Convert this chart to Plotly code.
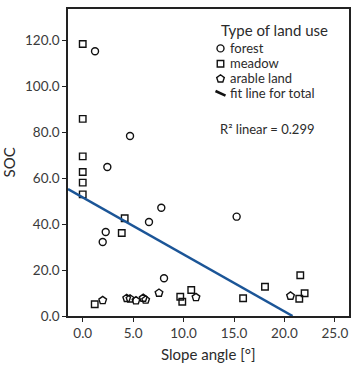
import plotly.graph_objects as go

# ---- data ----
forest_x = [1.22, 4.69, 2.44, 6.57, 7.79, 2.28, 1.98, 8.06, 15.26]
forest_y = [115.1, 78.3, 64.8, 40.9, 47.1, 36.5, 32.2, 16.4, 43.2]

meadow_x = [0.0, 0.0, 0.0, 0.0, 0.0, 0.0, 4.16, 3.87, 1.19, 9.67, 9.87, 10.76, 15.9, 18.07, 21.57, 21.47, 22.0]
meadow_y = [118.3, 85.7, 69.4, 62.6, 58.0, 52.9, 42.5, 36.1, 5.1, 8.4, 6.2, 11.3, 7.7, 12.7, 17.7, 7.5, 9.9]

arable_x = [1.98, 4.36, 4.69, 5.28, 6.0, 6.24, 7.56, 11.23, 20.6]
arable_y = [6.8, 7.7, 7.5, 6.7, 7.8, 7.0, 10.0, 8.1, 8.7]

fit_intercept = 51.6
fit_slope = -2.48
r2_text = "R² linear = 0.299"

legend_title = "Type of land use"
legend_labels = ["forest", "meadow", "arable land", "fit line for total"]

x_ticks = [0, 5, 10, 15, 20, 25]
y_ticks = [0, 20, 40, 60, 80, 100, 120]
x_range = [-1.46, 26.4]
y_range = [0, 133.5]

FONT = "Lato"
TXT = "#2b2b2b"
INK = "#111111"

# plot-area geometry in pixels (used by the overlay "legend" axes)
L, R, T, B = 68, 349, 9, 316

fig = go.Figure()

sym = {"forest": ("circle-open", 7), "meadow": ("square-open", 6.5), "arable land": ("pentagon-open", 8)}

for name, xs, ys in [("forest", forest_x, forest_y),
                     ("meadow", meadow_x, meadow_y),
                     ("arable land", arable_x, arable_y)]:
    s, sz = sym[name]
    fig.add_trace(go.Scatter(x=xs, y=ys, mode="markers", name=name, showlegend=False,
                             marker=dict(symbol=s, size=sz, color=INK, line=dict(width=1.4))))

x_end = -fit_intercept / fit_slope
fit_x = [x_range[0], x_end]
fit_y = [fit_intercept + fit_slope * v for v in fit_x]
fig.add_trace(go.Scatter(x=fit_x, y=fit_y, mode="lines", name="fit line for total", showlegend=False,
                         line=dict(color="#1b5597", width=2.5)))

# ---- hand-made legend on an overlay axis measured in pixels ----
row_y = [47.6, 62.9, 78.0, 93.3]
key_x = 220.5
text_x = 227.5
for i, name in enumerate(legend_labels[:3]):
    s, sz = sym[name]
    fig.add_trace(go.Scatter(x=[key_x], y=[row_y[i] + 0.8], xaxis="x2", yaxis="y2", mode="markers",
                             showlegend=False, hoverinfo="skip",
                             marker=dict(symbol=s, size=sz, color=INK, line=dict(width=1.4))))
fig.add_trace(go.Scatter(x=[key_x - 5, key_x + 5], y=[row_y[3] - 2.3, row_y[3] + 2.3], xaxis="x2", yaxis="y2",
                         mode="lines", showlegend=False, hoverinfo="skip",
                         line=dict(color=INK, width=2.6)))
for i, lab in enumerate(legend_labels):
    fig.add_annotation(x=text_x, y=row_y[i], xref="x2", yref="y2", xanchor="left", yanchor="middle",
                       text=lab, showarrow=False, font=dict(size=13, color=TXT, family=FONT))
fig.add_annotation(x=274.5, y=30.0, xref="x2", yref="y2", xanchor="center", yanchor="middle",
                   text=legend_title, showarrow=False, font=dict(size=15, color=TXT, family=FONT))
fig.add_annotation(x=217.5, y=129.0, xref="x2", yref="y2", xanchor="left", yanchor="middle",
                   text=r2_text, showarrow=False, font=dict(size=13, color=TXT, family=FONT))

# axis titles
fig.add_annotation(x=0, y=0.5, xref="paper", yref="paper", xanchor="center", yanchor="middle",
                   xshift=-(L - 8), textangle=-90, text="SOC", showarrow=False,
                   font=dict(size=15, color=TXT, family=FONT))
fig.add_annotation(x=0.5, y=0, xref="paper", yref="paper", xanchor="center", yanchor="middle",
                   yshift=-38, text="Slope angle [°]", showarrow=False,
                   font=dict(size=15, color=TXT, family=FONT))

axis_common = dict(showline=True, mirror=True, linecolor="#222222", linewidth=1.5,
                   ticks="outside", ticklen=4, tickcolor="#222222", tickwidth=1.2,
                   showgrid=False, zeroline=False, automargin=False,
                   tickfont=dict(size=13.5, color="#3a3a3a", family=FONT))

fig.update_layout(
    width=352, height=365,
    margin=dict(l=L, r=352 - R, t=T, b=365 - B, autoexpand=False),
    paper_bgcolor="white", plot_bgcolor="white",
    font=dict(family=FONT, color=TXT),
    xaxis=dict(range=x_range, tickvals=x_ticks, ticktext=[f"{v:.1f}" for v in x_ticks], **axis_common),
    yaxis=dict(range=y_range, tickvals=y_ticks, ticktext=[f"{v:.1f}" for v in y_ticks], **axis_common),
    xaxis2=dict(overlaying="x", anchor="y2", range=[L, R], visible=False, fixedrange=True),
    yaxis2=dict(overlaying="y", anchor="x2", range=[B, T], visible=False, fixedrange=True),
    showlegend=False,
)

fig.write_html("out.html",
               config={"displayModeBar": False},
               post_script="document.body.style.margin='0px';document.body.style.overflow='hidden';")
